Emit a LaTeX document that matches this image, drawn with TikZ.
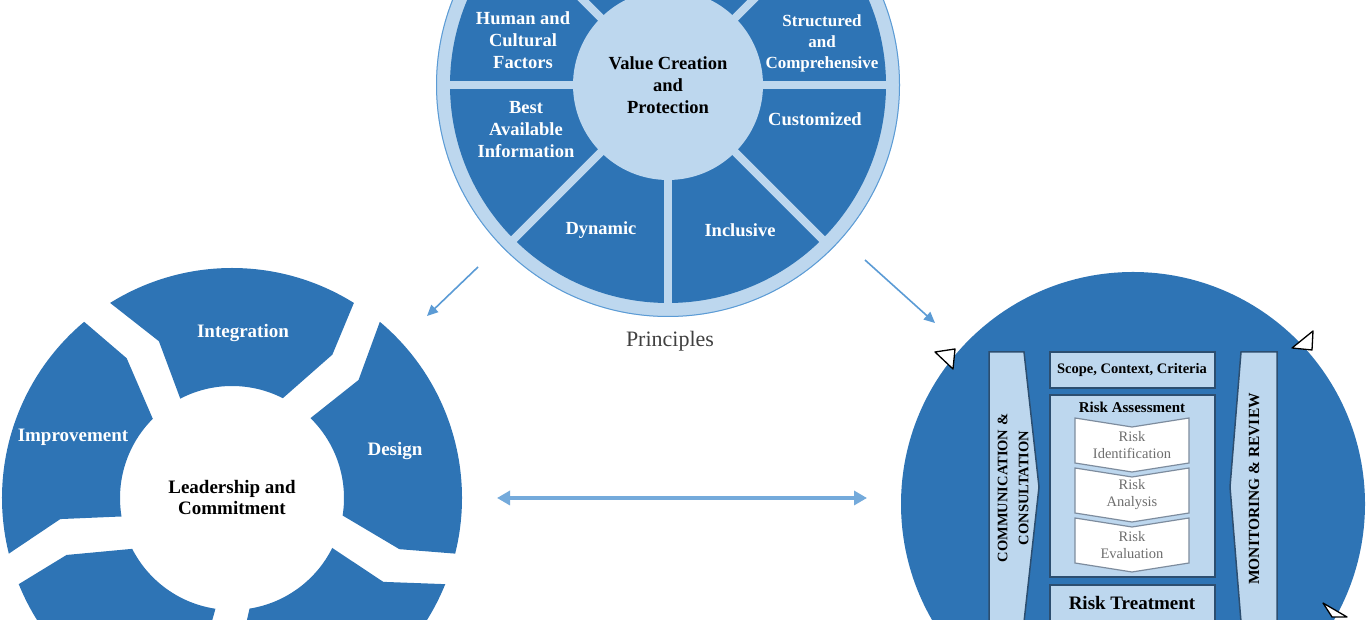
\documentclass[tikz,border=0pt]{standalone}
\usepackage{fontspec}
\setmainfont{Liberation Serif}
\usetikzlibrary{arrows.meta}
\definecolor{dblue}{RGB}{46,116,181}
\definecolor{lblue}{RGB}{189,215,238}
\definecolor{ablue}{RGB}{91,155,213}
\definecolor{boxline}{RGB}{44,78,112}
\definecolor{chevline}{RGB}{125,140,158}
\definecolor{chevtext}{RGB}{110,110,110}
\begin{document}
\begin{tikzpicture}[x=1pt,y=1pt,
  wlab/.style={text=white, font=\bfseries\fontsize{18.5}{22}\selectfont, align=center, inner sep=0pt},
  blab/.style={text=black, font=\bfseries\fontsize{18.5}{22}\selectfont, align=center, inner sep=0pt},
  llab/.style={text=white, font=\bfseries\fontsize{19}{21}\selectfont, align=center, inner sep=0pt},
  procbox/.style={draw=boxline, line width=1.5pt, fill=lblue},
  chev/.style={draw=chevline, line width=1.2pt, fill=white},
  chevlab/.style={text=chevtext, font=\fontsize{14.5}{17}\selectfont, align=center, inner sep=0pt},
  plab/.style={text=black, font=\bfseries\fontsize{15}{18}\selectfont, align=center, inner sep=0pt},
  thinarrow/.style={draw=ablue, line width=1.6pt, -{Triangle[length=11pt,width=10pt]}},
  handle/.style={draw=black, line width=1.3pt, fill=white, line join=round}
]
\useasboundingbox (0,0) rectangle (1366,620);
\clip (0,0) rectangle (1366,620);

% ---------- top circle (Principles) ----------
\coordinate (T) at (668,535);
\fill[lblue] (T) circle[radius=232];
\draw[ablue, line width=1pt] (T) circle[radius=231.5];
\fill[dblue] (T) circle[radius=218];
\foreach \a in {0,45,...,315} \draw[lblue, line width=8pt] (T) -- ++(\a:219);
\fill[lblue] (T) circle[radius=95];

\node[wlab] (hcf) at (523,580) {Human and\\Cultural\\Factors};
\node[wlab, font=\bfseries\fontsize{17}{21}\selectfont] (sac) at (822,577) {Structured\\and\\Comprehensive};
\node[blab] (vcp) at (668,535) {Value Creation\\and\\Protection};
\node[wlab] (bai) at (526,490) {Best\\Available\\Information};
\node[wlab] (cus) at (815,501) {Customized};
\node[wlab] (dyn) at (601,390) {Dynamic};
\node[wlab] (inc) at (740,390) {Inclusive};
\node[text=black!75, font=\fontsize{22}{24}\selectfont, inner sep=0pt] (pri) at (670,279) {Principles};

% ---------- left circle (Framework) ----------
\begin{scope}[shift={(232,122)}]
\foreach \c in {90,18,-54,-126,162}{
  \fill[dblue] (\c+32:230) arc[start angle=\c+32, end angle=\c-32, radius=230]
     -- (\c-35:175) -- (\c-27:112)
     arc[start angle=\c-27, end angle=\c+27.5, radius=112]
     -- (\c+25:173) -- cycle;
}
\end{scope}
\node[llab] (int) at (243,287) {Integration};
\node[llab] (des) at (395,169) {Design};
\node[llab] (imp) at (73,183) {Improvement};
\node[llab, text=black] (lac) at (232,122) {Leadership and\\Commitment};

% ---------- right circle (Process) ----------
\fill[dblue] (1133,116) circle[radius=232];

\draw[procbox] (989,268) -- (1024,268) -- (1039,133) -- (1024,-2) -- (989,-2) -- cycle;
\draw[procbox] (1241,268) -- (1277,268) -- (1277,-2) -- (1241,-2) -- (1230,133) -- cycle;
\draw[procbox] (1050,232) rectangle (1215,268);
\draw[procbox] (1050,43) rectangle (1215,225);
\draw[procbox] (1050,-10) rectangle (1215,35);

\node[plab, rotate=90, font=\bfseries\fontsize{14.5}{21}\selectfont] (comm) at (1013,132) {COMMUNICATION \&\\CONSULTATION};
\node[plab, rotate=90, font=\bfseries\fontsize{15.5}{18}\selectfont] (mon) at (1254,131) {MONITORING \& REVIEW};
\node[plab, font=\bfseries\fontsize{14.5}{17}\selectfont] (scc) at (1132,250) {Scope, Context, Criteria};
\node[plab] (ras) at (1132,213) {Risk Assessment};
\node[plab, font=\bfseries\fontsize{19}{21}\selectfont] (rtr) at (1132,17) {Risk Treatment};

\draw[chev] (1075,202) -- (1132,193) -- (1189,202) -- (1189,157) -- (1132,148) -- (1075,157) -- cycle;
\draw[chev] (1075,152) -- (1132,143) -- (1189,152) -- (1189,107) -- (1132,98) -- (1075,107) -- cycle;
\draw[chev] (1075,102) -- (1132,93) -- (1189,102) -- (1189,57) -- (1132,48) -- (1075,57) -- cycle;
\node[chevlab] (rid) at (1132,175) {Risk\\Identification};
\node[chevlab] (ran) at (1132,125) {Risk\\Analysis};
\node[chevlab] (rev) at (1132,75) {Risk\\Evaluation};

% small handles on the circle edge
\draw[handle] (935,268) -- (955,271) -- (953,251) -- cycle;
\draw[handle] (1292,272) -- (1313,289) -- (1312,270) -- cycle;
\draw[handle] (1323,17) -- (1332,3) -- (1347,3) -- cycle;

% ---------- arrows ----------
\coordinate (a1s) at (478,353);
\coordinate (a1e) at (427,304);
\coordinate (a2s) at (865,360);
\coordinate (a2e) at (935,297);
\coordinate (a3s) at (497,122);
\coordinate (a3e) at (867,122);
\draw[thinarrow] (a1s) -- (a1e);
\draw[thinarrow] (a2s) -- (a2e);
\draw[draw=ablue!85!white, line width=3.5pt, {Triangle[length=13pt,width=14pt]}-{Triangle[length=13pt,width=14pt]}] (a3s) -- (a3e);
\end{tikzpicture}
\end{document}
